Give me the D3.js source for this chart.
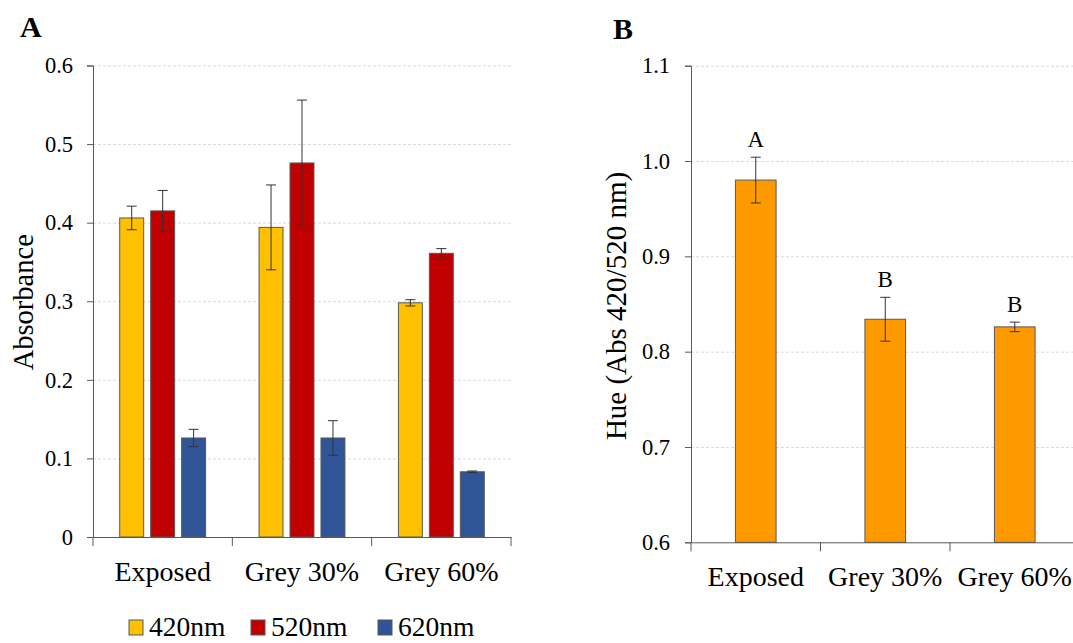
<!DOCTYPE html>
<html>
<head>
<meta charset="utf-8">
<script src="https://cdn.jsdelivr.net/npm/d3@7"></script>
<style>
  body{margin:0;background:#fff;}
  svg{display:block;}
  svg text{font-family:"Liberation Serif","Times New Roman",Times,serif !important;}
  .grid line{stroke:#d9d9d9;stroke-dasharray:3,2;}
</style>
</head>
<body>
<div id="chart"></div>
<script>
// panel A data
const groups = ["Exposed","Grey 30%","Grey 60%"]
const series = ["420nm","520nm","620nm"]
const abs420 = [0.406,0.394,0.298]
const abs520 = [0.415,0.476,0.361]
const abs620 = [0.126,0.126,0.083]
const err420 = [0.015,0.054,0.004]
const err520 = [0.026,0.080,0.006]
const err620 = [0.011,0.022,0.001]
const ticksA = [0,0.1,0.2,0.3,0.4,0.5,0.6]
// panel B data
const hue = [0.980,0.834,0.826]
const hueErr = [0.024,0.023,0.005]
const hueLetters = ["A","B","B"]
const ticksB = [0.6,0.7,0.8,0.9,1.0,1.1]

const colors = {"420nm":"#FFC000","520nm":"#C00000","620nm":"#2F5597"}
const values = {"420nm":abs420,"520nm":abs520,"620nm":abs620}
const errors = {"420nm":err420,"520nm":err520,"620nm":err620}
const font = "Liberation Serif, Times New Roman, serif"

const width = 1073, height = 643
const svg = d3.select("#chart").append("svg")
  .attr("width",width).attr("height",height)
  .attr("font-family",font)

// ---------- panel A ----------
const A = {left:93,right:511,top:65.5,bottom:537}
const xA = d3.scaleBand().domain(groups).range([A.left,A.right])
const xInner = d3.scaleBand().domain(series).range([0,xA.bandwidth()])
  .paddingInner(0.226).paddingOuter(0.863)
const yA = d3.scaleLinear().domain([0,0.6]).range([A.bottom,A.top])

svg.append("g").attr("class","grid")
  .attr("transform",`translate(${A.left},0)`)
  .call(d3.axisLeft(yA).tickValues(ticksA.slice(1)).tickSize(-(A.right-A.left)).tickFormat(""))
  .call(g=>g.select(".domain").remove())

const rowsA = []
groups.forEach((g,i)=>series.forEach(s=>rowsA.push({g:g,s:s,v:values[s][i],e:errors[s][i]})))

svg.append("g").selectAll("rect").data(rowsA).enter().append("rect")
  .attr("x",d=>xA(d.g)+xInner(d.s))
  .attr("y",d=>yA(d.v))
  .attr("width",xInner.bandwidth())
  .attr("height",d=>yA(0)-yA(d.v))
  .attr("fill",d=>colors[d.s])
  .attr("stroke","#595959").attr("stroke-width",1)

const errA = svg.append("g").attr("stroke","#333").attr("stroke-width",1)
rowsA.forEach(d=>{
  const cx = xA(d.g)+xInner(d.s)+xInner.bandwidth()/2
  errA.append("line").attr("x1",cx).attr("x2",cx).attr("y1",yA(d.v+d.e)).attr("y2",yA(d.v-d.e))
  errA.append("line").attr("x1",cx-5).attr("x2",cx+5).attr("y1",yA(d.v+d.e)).attr("y2",yA(d.v+d.e))
  errA.append("line").attr("x1",cx-5).attr("x2",cx+5).attr("y1",yA(d.v-d.e)).attr("y2",yA(d.v-d.e))
})

const yAxisA = svg.append("g").attr("transform",`translate(${A.left},0)`)
  .call(d3.axisLeft(yA).tickValues(ticksA).tickSize(6).tickPadding(14).tickFormat(d=>d===0?"0":d3.format(".1f")(d)))
yAxisA.attr("font-family",font).attr("font-size",22.5)
yAxisA.selectAll("text").attr("fill","#000")
yAxisA.selectAll("line,path").attr("stroke","#595959")

const xAxisA = svg.append("g").attr("transform",`translate(0,${A.bottom})`)
  .call(d3.axisBottom(xA).tickSize(0).tickPadding(0))
xAxisA.attr("font-family",font).attr("font-size",28)
xAxisA.selectAll("text").attr("fill","#000").attr("dy",null).attr("y",44)
xAxisA.select(".domain").attr("stroke","#595959")
svg.append("g").selectAll("line").data(groups.concat(["end"])).enter().append("line")
  .attr("x1",(d,i)=>A.left+i*xA.step()).attr("x2",(d,i)=>A.left+i*xA.step())
  .attr("y1",A.bottom).attr("y2",A.bottom+9).attr("stroke","#595959")

svg.append("text").attr("transform",`translate(33,${(A.top+A.bottom)/2+1}) rotate(-90)`)
  .attr("text-anchor","middle").attr("font-size",28.5).text("Absorbance")
svg.append("text").attr("x",20).attr("y",37).attr("font-size",30).attr("font-weight","bold").text("A")

// legend
const legX = [129,251,378]
const leg = svg.append("g").selectAll("g").data(series).enter().append("g")
  .attr("transform",(d,i)=>`translate(${legX[i]},620)`)
leg.append("rect").attr("width",14).attr("height",15)
  .attr("fill",d=>colors[d]).attr("stroke","#595959")
leg.append("text").attr("x",20).attr("y",16).attr("font-size",27.5).text(d=>d)

// ---------- panel B ----------
const B = {left:691,right:1079.5,top:65.7,bottom:542.3}
const xB = d3.scaleBand().domain(groups).range([B.left,B.right])
const yB = d3.scaleLinear().domain([0.6,1.1]).range([B.bottom,B.top])
const barW = xB.bandwidth()*0.314

svg.append("g").attr("class","grid")
  .attr("transform",`translate(${B.left},0)`)
  .call(d3.axisLeft(yB).tickValues(ticksB.slice(1)).tickSize(-(B.right-B.left)).tickFormat(""))
  .call(g=>g.select(".domain").remove())

const rowsB = groups.map((g,i)=>({g:g,v:hue[i],e:hueErr[i],l:hueLetters[i]}))
svg.append("g").selectAll("rect").data(rowsB).enter().append("rect")
  .attr("x",d=>xB(d.g)+(xB.bandwidth()-barW)/2)
  .attr("y",d=>yB(d.v))
  .attr("width",barW)
  .attr("height",d=>yB(0.6)-yB(d.v))
  .attr("fill","#FF9900").attr("stroke","#595959")

const errB = svg.append("g").attr("stroke","#333")
rowsB.forEach(d=>{
  const cx = xB(d.g)+xB.bandwidth()/2
  errB.append("line").attr("x1",cx).attr("x2",cx).attr("y1",yB(d.v+d.e)).attr("y2",yB(d.v-d.e))
  errB.append("line").attr("x1",cx-5).attr("x2",cx+5).attr("y1",yB(d.v+d.e)).attr("y2",yB(d.v+d.e))
  errB.append("line").attr("x1",cx-5).attr("x2",cx+5).attr("y1",yB(d.v-d.e)).attr("y2",yB(d.v-d.e))
})
svg.append("g").selectAll("text").data(rowsB).enter().append("text")
  .attr("x",d=>xB(d.g)+xB.bandwidth()/2)
  .attr("y",d=>yB(d.v+d.e)-10)
  .attr("text-anchor","middle").attr("font-size",23).text(d=>d.l)

const yAxisB = svg.append("g").attr("transform",`translate(${B.left},0)`)
  .call(d3.axisLeft(yB).tickValues(ticksB).tickSize(6).tickPadding(15).tickFormat(d3.format(".1f")))
yAxisB.attr("font-family",font).attr("font-size",22.5)
yAxisB.selectAll("text").attr("fill","#000")
yAxisB.selectAll("line,path").attr("stroke","#595959")

const xAxisB = svg.append("g").attr("transform",`translate(0,${B.bottom})`)
  .call(d3.axisBottom(xB).tickSize(0).tickPadding(0))
xAxisB.attr("font-family",font).attr("font-size",28)
xAxisB.selectAll("text").attr("fill","#000").attr("dy",null).attr("y",44)
xAxisB.select(".domain").attr("stroke","#595959")
svg.append("g").selectAll("line").data(groups).enter().append("line")
  .attr("x1",(d,i)=>B.left+i*xB.step()).attr("x2",(d,i)=>B.left+i*xB.step())
  .attr("y1",B.bottom).attr("y2",B.bottom+9).attr("stroke","#595959")

svg.append("text").attr("transform",`translate(626,${(B.top+B.bottom)/2+2}) rotate(-90)`)
  .attr("text-anchor","middle").attr("font-size",29).text("Hue (Abs 420/520 nm)")
svg.append("text").attr("x",613).attr("y",39).attr("font-size",30).attr("font-weight","bold").text("B")
</script>
</body>
</html>
